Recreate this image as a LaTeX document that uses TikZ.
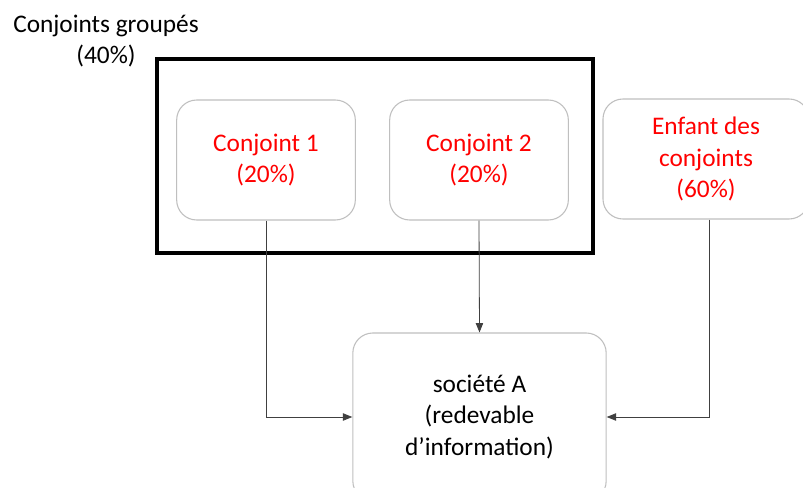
\documentclass[tikz,border=0pt]{standalone}
\usepackage{fontspec}
\setmainfont{Carlito}
\usetikzlibrary{arrows.meta}

\tikzset{
  part/.style={draw={rgb,255:red,191;green,191;blue,191}, line width=0.8pt, rounded corners=15pt,
    minimum width=134pt, minimum height=90pt, align=center, text={rgb,255:red,255;green,0;blue,0}},
  link/.style={draw={rgb,255:red,64;green,64;blue,64}, line width=0.6pt, -{Triangle[length=7pt,width=5.5pt]}},
}

\begin{document}
\begin{tikzpicture}[x=0.75pt,y=0.75pt,yscale=-1,xscale=1,font=\fontsize{19}{23.4}\selectfont]
\clip (0,0) rectangle (803,488);
\fill[white] (0,0) rectangle (803,488);

%Group box
\draw [line width=2.8pt] (157,59) rectangle (593,253) ;

% Text Node
\node (groupe) [align=center] at (106,41) {Conjoints groupés\\(40\%)};

%Rounded boxes
\node (conj1) [part] at (266,160) {Conjoint 1\\(20\%)};
\node (conj2) [part] at (479,160) {Conjoint 2\\(20\%)};
\node (enfant) [part, minimum width=154.5pt] at (706,159) {Enfant des\\conjoints\\(60\%)};
\node (societe) [part, text=black, minimum width=190pt, minimum height=126pt] at (479.5,417) {société A\\(redevable\\d’information)};

%Connectors
\draw [link] (conj1.south) |- (societe.west) ;
\draw [link] (conj2.south) -- (societe.north) ;
\draw [link] ([xshift=2.25pt]enfant.south) |- (societe.east) ;

\end{tikzpicture}
\end{document}
